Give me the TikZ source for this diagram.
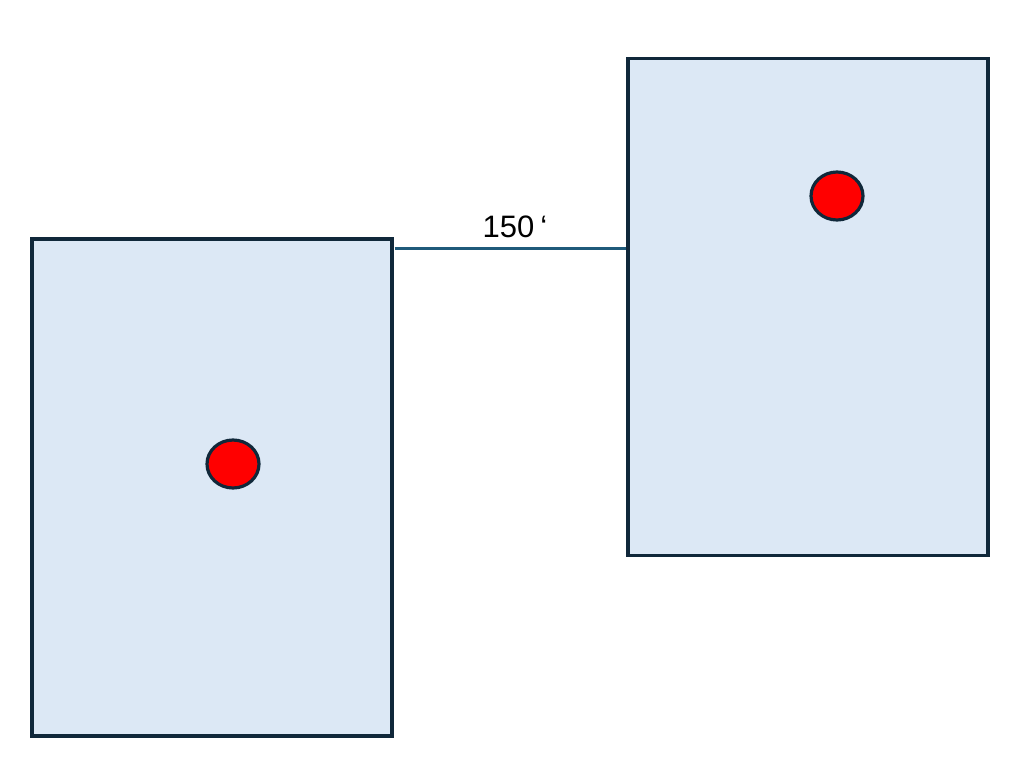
\documentclass[tikz,border=0pt]{standalone}
\usepackage{fontspec}
\setmainfont{Liberation Sans}
\definecolor{boxfill}{HTML}{DCE8F5}
\definecolor{edge}{HTML}{10283A}
\definecolor{linkc}{HTML}{1F5A7A}
\definecolor{dotred}{HTML}{FF0000}
\tikzset{
  lot/.style={draw=edge, fill=boxfill, line width=3.2pt, minimum width=360pt, minimum height=497pt, inner sep=0pt, outer sep=0pt},
  dot/.style={draw=edge, fill=dotred, line width=3.2pt, ellipse, minimum width=52pt, minimum height=48pt, inner sep=0pt},
  link/.style={draw=linkc, line width=3pt},
  lbl/.style={font=\fontsize{31}{36}\selectfont, text=black, inner sep=0pt}
}
\usetikzlibrary{shapes.geometric}
\begin{document}
\begin{tikzpicture}[x=1pt,y=-1pt]
\useasboundingbox (0,0) rectangle (1024,757);
\node[lot] (L) at (212,487.5) {};
\node[lot] (R) at (808,307) {};
\node[dot] (dl) at (233,464) {};
\node[dot] (dr) at (837,196) {};
\coordinate (lvl) at (500,248);
\draw[link] ([xshift=2.5pt]L.east |- lvl) -- ([xshift=-2.5pt]R.west |- lvl);
\node[lbl] (t) at (515,227) {150\hspace{6pt}‘};
\end{tikzpicture}
\end{document}
